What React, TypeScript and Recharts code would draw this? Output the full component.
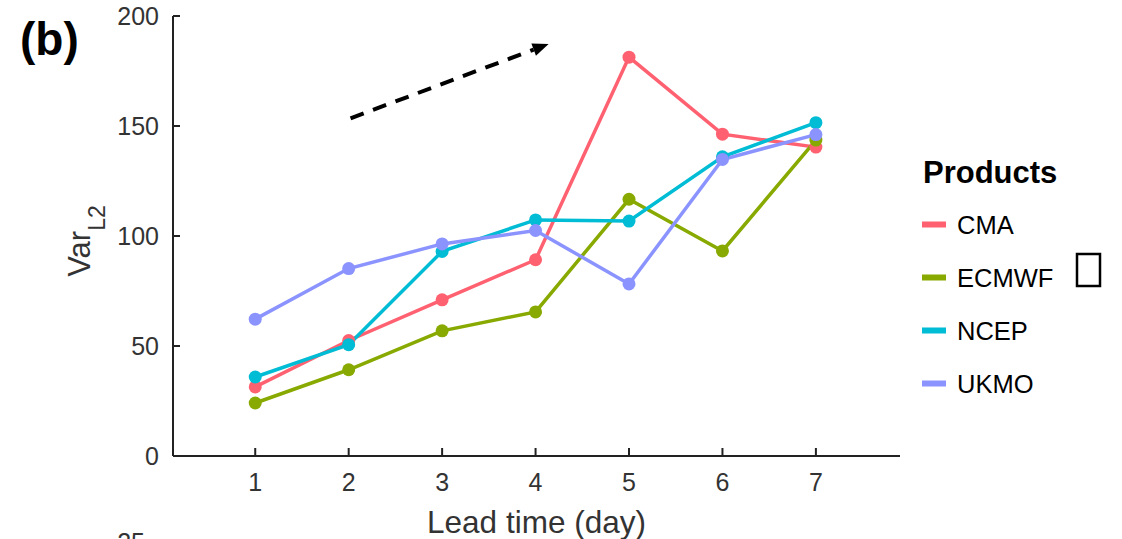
import { LineChart, Line, XAxis, YAxis, ReferenceLine } from "recharts";

const leadTimes = [1, 2, 3, 4, 5, 6, 7];
const cma = [31.4, 52.5, 71, 89.2, 181.3, 146.3, 140.4];
const ecmwf = [24.1, 39.2, 56.9, 65.5, 116.7, 93.2, 143.6];
const ncep = [35.9, 50.6, 93, 107.3, 106.8, 136, 151.5];
const ukmo = [62.2, 85.2, 96.4, 102.5, 78.2, 134.8, 146.1];

const products = ["CMA", "ECMWF", "NCEP", "UKMO"];
const productColors = ["#FF6171", "#88AA00", "#00BCD4", "#8B93FF"];
const yTicks = [0, 50, 100, 150, 200];

// dashed trend arrow, in data units
const trendArrow = [
  { x: 2.02, y: 153.5 },
  { x: 4.14, y: 187.3 },
];

const data = leadTimes.map((t, i) => ({
  lead: t,
  CMA: cma[i],
  ECMWF: ecmwf[i],
  NCEP: ncep[i],
  UKMO: ukmo[i],
}));

const FONT = "'Liberation Sans', Arial, Helvetica, sans-serif";

function ArrowShape(props: any) {
  const { x1, y1, x2, y2 } = props;
  const dx = x2 - x1;
  const dy = y2 - y1;
  const len = Math.sqrt(dx * dx + dy * dy);
  const ux = dx / len;
  const uy = dy / len;
  const head = 16;
  const half = 6.5;
  const bx = x2 - ux * head;
  const by = y2 - uy * head;
  const pts = `${x2},${y2} ${bx - uy * half},${by + ux * half} ${bx + uy * half},${by - ux * half}`;
  return (
    <g>
      <line x1={x1} y1={y1} x2={bx} y2={by} stroke="#000" strokeWidth={4} strokeDasharray="14 10" />
      <polygon points={pts} fill="#000" />
    </g>
  );
}

function YTitle(props: any) {
  const vb = props.viewBox || {};
  const x = 90;
  const y = vb.y + vb.height / 2 + 5;
  return (
    <text
      x={x}
      y={y}
      transform={`rotate(-90 ${x} ${y})`}
      textAnchor="middle"
      fontFamily={FONT}
      fontSize={31}
      fill="#333"
    >
      Var
      <tspan fontSize={23} dy={15}>
        L2
      </tspan>
    </text>
  );
}

function XTitle(props: any) {
  const vb = props.viewBox || {};
  return (
    <text
      x={vb.x + vb.width / 2}
      y={vb.y + 77}
      textAnchor="middle"
      fontFamily={FONT}
      fontSize={31.5}
      fill="#333"
    >
      Lead time (day)
    </text>
  );
}

export default function App() {
  const tickStyle = { fontFamily: FONT, fontSize: 25, fill: "#333" };
  return (
    <div style={{ position: "absolute", left: 0, top: 0, width: 1122, height: 539, background: "#fff" }}>
      <LineChart
        width={1122}
        height={539}
        data={data}
        margin={{ top: 16, right: 222, bottom: 0, left: 83 }}
      >
        <XAxis
          dataKey="lead"
          type="number"
          domain={[0.12, 7.9]}
          ticks={leadTimes}
          allowDataOverflow
          height={83}
          tick={tickStyle}
          tickSize={-8}
          tickMargin={25}
          axisLine={{ stroke: "#222", strokeWidth: 2 }}
          tickLine={{ stroke: "#222", strokeWidth: 2 }}
          label={<XTitle />}
        />
        <YAxis
          type="number"
          domain={[0, 200]}
          ticks={yTicks}
          width={90}
          tick={tickStyle}
          tickSize={-7}
          tickMargin={21}
          axisLine={{ stroke: "#222", strokeWidth: 2 }}
          tickLine={{ stroke: "#222", strokeWidth: 2 }}
          label={<YTitle />}
        />
        {products.map((p, i) => (
          <Line
            key={p}
            type="linear"
            dataKey={p}
            stroke={productColors[i]}
            strokeWidth={3.5}
            dot={{ r: 6.5, fill: productColors[i], stroke: "none" }}
            activeDot={false}
            isAnimationActive={false}
          />
        ))}
        <ReferenceLine
          segment={trendArrow}
          stroke="#000"
          shape={ArrowShape}
        />
      </LineChart>

      <svg
        width={1122}
        height={539}
        style={{ position: "absolute", left: 0, top: 0, pointerEvents: "none" }}
      >
        <text x={20} y={55} fontFamily={FONT} fontSize={46} fontWeight="bold" fill="#000">
          (b)
        </text>
        <text x={923} y={183} fontFamily={FONT} fontSize={31} fontWeight="bold" fill="#000">
          Products
        </text>
        {products.map((p, i) => {
          const cy = 224.5 + i * 53;
          return (
            <g key={p}>
              <rect x={922} y={cy - 3} width={24} height={6} fill={productColors[i]} />
              <text x={957} y={cy + 9} fontFamily={FONT} fontSize={25.5} fill="#000">
                {p}
              </text>
            </g>
          );
        })}
        <rect x={1077} y={254} width={23} height={32} fill="none" stroke="#000" strokeWidth={2.5} />
        <text x={145} y={551} textAnchor="end" fontFamily={FONT} fontSize={25} fill="#333">
          25
        </text>
      </svg>
    </div>
  );
}
